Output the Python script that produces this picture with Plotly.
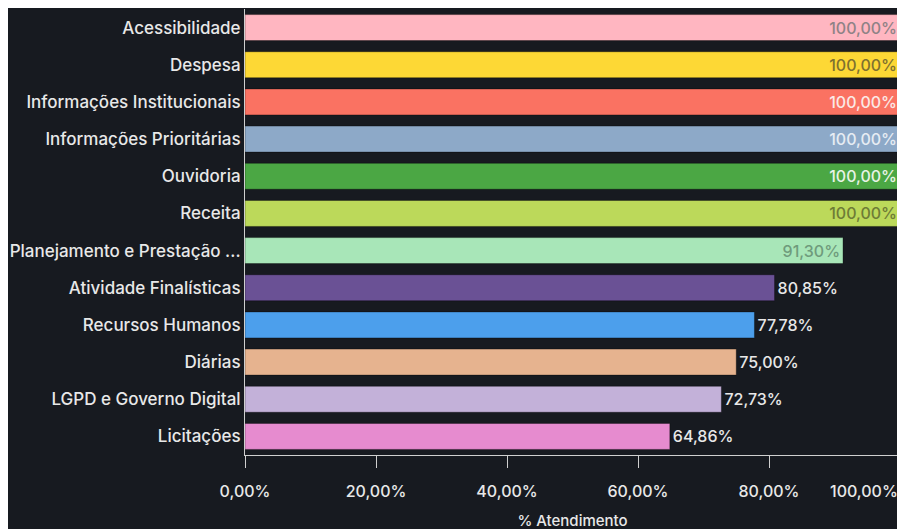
import plotly.graph_objects as go

categories = [
    "Acessibilidade", "Despesa", "Informações Institucionais", "Informações Prioritárias",
    "Ouvidoria", "Receita", "Planejamento e Prestação ...", "Atividade Finalísticas",
    "Recursos Humanos", "Diárias", "LGPD e Governo Digital", "Licitações",
]
values = [100.00, 100.00, 100.00, 100.00, 100.00, 100.00, 91.30, 80.85, 77.78, 75.00, 72.73, 64.86]
bar_colors = ["#FFB6C1", "#FDD835", "#FA7262", "#8DA9C8", "#4BA744", "#BCD95A",
              "#A8E6B8", "#6A5195", "#4C9FEC", "#E6B38F", "#C3B1D9", "#E68BCF"]
text_colors = ["#8f8286", "#7f712f", "#fbe9e6", "#e6ecf3", "#e8f3e6", "#6e7c36",
               "#6f9b7c", "#e8e8e8", "#e8e8e8", "#e8e8e8", "#e8e8e8", "#e8e8e8"]
tick_vals = [0, 20, 40, 60, 80, 100]
tick_text = ["0,00%", "20,00%", "40,00%", "60,00%", "80,00%", ""]
last_tick_label = "100,00%"

def fmt(v):
    return f"{v:.2f}".replace(".", ",") + "%"

positions = ["inside" if v >= 90 else "outside" for v in values]

BG = "#171a20"
FONT = "Inter, Roboto, sans-serif"
FS = 16

fig = go.Figure(go.Bar(
    x=values, y=categories, orientation="h",
    marker=dict(color=bar_colors, line=dict(color="rgba(0,0,0,0.35)", width=1)),
    text=[fmt(v) for v in values],
    textposition=positions,
    insidetextanchor="end",
    textfont=dict(color=text_colors, size=FS, family=FONT, weight=500),
    cliponaxis=False,
    hoverinfo="skip",
))

fig.update_layout(
    width=905, height=529,
    paper_bgcolor=BG, plot_bgcolor=BG,
    margin=dict(l=237, r=13, t=1, b=82),
    bargap=0.3,
    showlegend=False,
    font=dict(family=FONT, color="#e8e8e8", size=FS, weight=500),
)
fig.update_yaxes(
    categoryorder="array", categoryarray=categories, autorange="reversed",
    showgrid=False, zeroline=False, showline=True, linecolor="#cfcfcf", linewidth=1,
    ticks="", tickfont=dict(size=17, color="#e8e8e8", weight=500), automargin=False,
)
fig.update_xaxes(
    range=[0, 100], tickvals=tick_vals, ticktext=tick_text,
    showgrid=False, zeroline=False, showline=True, linecolor="#cfcfcf", linewidth=1,
    ticks="outside", ticklen=12, tickcolor="#cfcfcf", tickwidth=1,
    ticklabelstandoff=10,
    tickfont=dict(size=FS, color="#e8e8e8", weight=500),
    title=dict(text="% Atendimento", font=dict(size=15, color="#e8e8e8", weight=500), standoff=15),
    automargin=False,
)
fig.add_annotation(
    x=1, xref="paper", xanchor="right", y=0, yref="paper", yanchor="top", yshift=-24,
    text=last_tick_label, showarrow=False,
    font=dict(size=FS, color="#e8e8e8", weight=500),
)

fig.write_html("out.html")
